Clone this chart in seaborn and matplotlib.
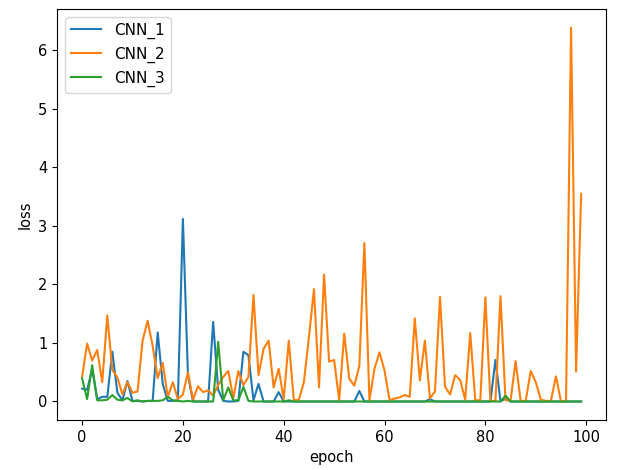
import matplotlib
matplotlib.use("Agg")
import matplotlib.pyplot as plt
import seaborn as sns
import pandas as pd
import numpy as np

epochs = list(range(100))

cnn_1 = [0.22, 0.20, 0.55, 0.04, 0.08, 0.08, 0.85, 0.15, 0.02, 0.35,
         0.01, 0.01, 0.00, 0.01, 0.01, 1.18, 0.30, 0.01, 0.01, 0.02,
         3.12, 0.45, 0.00, 0.00, 0.00, 0.00, 1.36, 0.20, 0.01, 0.00,
         0.00, 0.01, 0.85, 0.79, 0.02, 0.30, 0.00, 0.00, 0.00, 0.16,
         0.00, 0.00, 0.00, 0.00, 0.00, 0.00, 0.00, 0.00, 0.00, 0.00,
         0.00, 0.00, 0.00, 0.00, 0.00, 0.18, 0.00, 0.00, 0.00, 0.00,
         0.00, 0.00, 0.00, 0.00, 0.00, 0.00, 0.00, 0.00, 0.00, 0.04,
         0.00, 0.00, 0.00, 0.00, 0.00, 0.00, 0.00, 0.00, 0.00, 0.00,
         0.00, 0.00, 0.71, 0.00, 0.05, 0.00, 0.00, 0.00, 0.00, 0.00,
         0.00, 0.00, 0.00, 0.00, 0.00, 0.00, 0.00, 0.00, 0.00, 0.00]

cnn_2 = [0.42, 0.99, 0.70, 0.88, 0.33, 1.47, 0.54, 0.41, 0.12, 0.33,
         0.15, 0.17, 1.04, 1.38, 0.95, 0.40, 0.66, 0.08, 0.33, 0.04,
         0.12, 0.50, 0.03, 0.26, 0.16, 0.19, 0.10, 0.28, 0.42, 0.52,
         0.06, 0.52, 0.28, 0.42, 1.82, 0.45, 0.90, 1.04, 0.24, 0.56,
         0.04, 1.04, 0.02, 0.03, 0.33, 1.10, 1.92, 0.24, 2.17, 0.68,
         0.71, 0.02, 1.16, 0.39, 0.27, 0.61, 2.71, 0.02, 0.56, 0.84,
         0.53, 0.02, 0.05, 0.07, 0.11, 0.08, 1.42, 0.36, 1.04, 0.05,
         0.17, 1.79, 0.25, 0.12, 0.45, 0.37, 0.03, 1.17, 0.02, 0.02,
         1.78, 0.01, 0.01, 1.80, 0.02, 0.02, 0.69, 0.01, 0.01, 0.52,
         0.33, 0.03, 0.01, 0.01, 0.43, 0.00, 0.00, 6.39, 0.51, 3.55]

cnn_3 = [0.40, 0.04, 0.62, 0.02, 0.02, 0.03, 0.11, 0.03, 0.02, 0.06,
         0.00, 0.02, 0.00, 0.01, 0.01, 0.01, 0.02, 0.08, 0.02, 0.01,
         0.00, 0.01, 0.00, 0.00, 0.00, 0.00, 0.00, 1.02, 0.02, 0.24,
         0.02, 0.02, 0.25, 0.01, 0.00, 0.00, 0.00, 0.00, 0.00, 0.00,
         0.00, 0.02, 0.00, 0.00, 0.00, 0.00, 0.00, 0.00, 0.00, 0.00,
         0.00, 0.00, 0.00, 0.00, 0.00, 0.00, 0.00, 0.00, 0.00, 0.00,
         0.00, 0.00, 0.00, 0.00, 0.00, 0.00, 0.00, 0.00, 0.00, 0.00,
         0.00, 0.00, 0.00, 0.00, 0.00, 0.00, 0.00, 0.00, 0.00, 0.00,
         0.00, 0.00, 0.00, 0.00, 0.10, 0.00, 0.00, 0.00, 0.00, 0.00,
         0.00, 0.00, 0.00, 0.00, 0.00, 0.00, 0.00, 0.00, 0.00, 0.00]

series_names = ["CNN_1", "CNN_2", "CNN_3"]
colors = ["#1f77b4", "#ff7f0e", "#2ca02c"]

frames = []
for name, vals in zip(series_names, [cnn_1, cnn_2, cnn_3]):
    frames.append(pd.DataFrame({"epoch": epochs, "loss": vals, "model": name}))
df = pd.concat(frames, ignore_index=True)

plt.rcParams["font.size"] = 10.5

fig = plt.figure(figsize=(6.21, 4.70), dpi=100)
ax = fig.add_axes([0.092, 0.106, 0.884, 0.875])
sns.lineplot(data=df, x="epoch", y="loss", hue="model",
             palette=dict(zip(series_names, colors)), linewidth=1.5, ax=ax)
ax.legend(loc="upper left", title=None, fontsize=11)
ax.set_xlabel("epoch")
ax.set_ylabel("loss")
fig.savefig("out.png", dpi=100)
